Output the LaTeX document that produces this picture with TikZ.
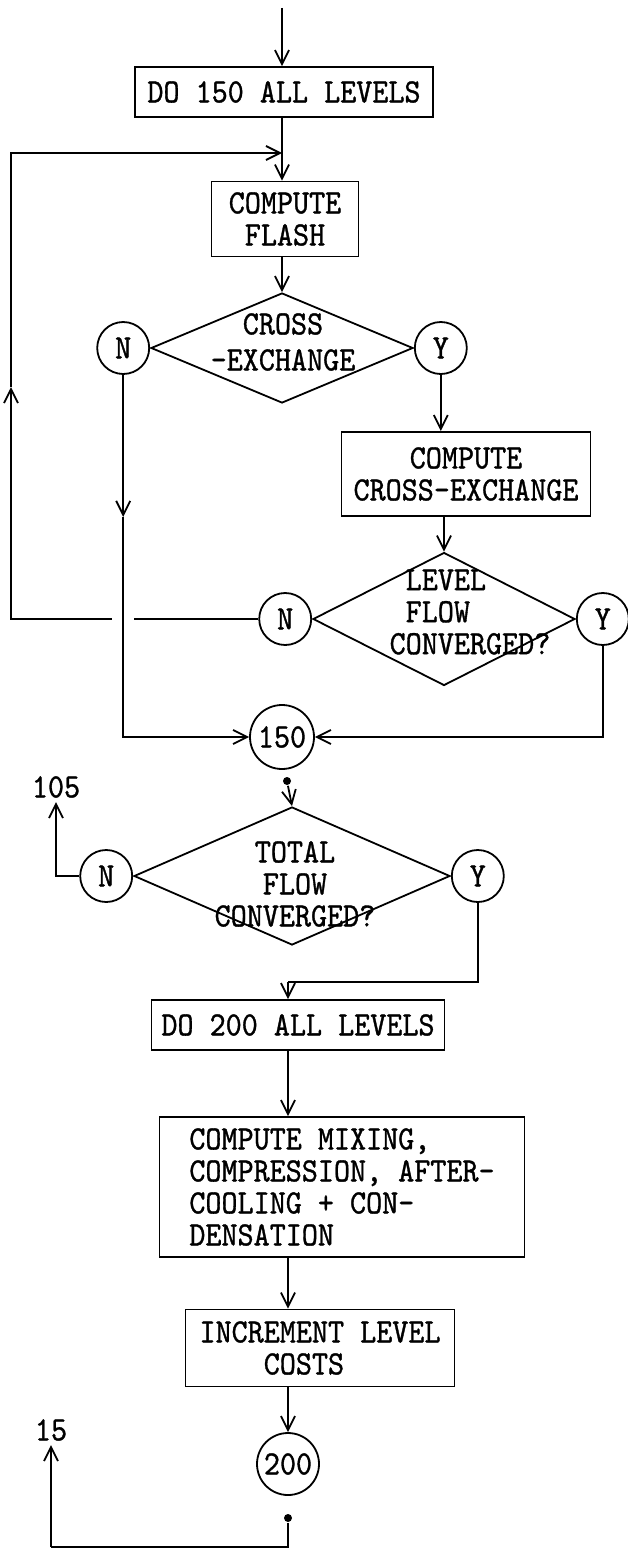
\documentclass[tikz,border=0pt]{standalone}
\usepackage{fontspec}
\setmonofont{lmmono10-regular.otf}[FakeBold=1,FakeStretch=0.9]
\usetikzlibrary{shapes.geometric,arrows.meta,positioning}
\begin{document}
\begin{tikzpicture}[x=1pt,y=-1pt,line width=1.8pt,
  >={Straight Barb[length=14pt,width=14pt]},
  every node/.style={font=\ttfamily\fontsize{34}{32}\selectfont,align=center},
  box/.style={draw,inner sep=0pt},
  decision/.style={draw,diamond,inner sep=0pt},
  answer/.style={draw,circle,inner sep=0pt,minimum size=52pt},
  joint/.style={fill,circle,inner sep=0pt,minimum size=8pt}]
\useasboundingbox (0,0) rectangle (627,1549);
\coordinate (top) at (282,8);
\coordinate (loopin) at (282,153);
\coordinate (lp) at (11,387);
\node[box,minimum width=298pt,minimum height=50pt] (do150) at (284,92) {DO 150 ALL LEVELS};
\node[box,minimum width=147pt,minimum height=75pt] (flash) at (285,219) {COMPUTE\\FLASH};
\node[decision,minimum width=262pt,minimum height=110pt] (cross) at (282,348) {};
\node[font=\ttfamily\fontsize{34}{36}\selectfont] (crosstxt) at (283,342) {CROSS\\-EXCHANGE};
\node[answer,left=0pt of cross] (n1) {N};
\node[answer,right=0pt of cross] (y1) {Y};
\node[box,minimum width=249pt,minimum height=84pt] (cxbox) at (466,474) {COMPUTE\\CROSS-EXCHANGE};
\node[decision,minimum width=262pt,minimum height=133pt] (level) at (444,619) {};
\node[align=left] (leveltxt) at (470,612) {\hphantom{C}LEVEL\\\hphantom{C}FLOW\\CONVERGED?};
\node[answer,left=0pt of level] (n2) {N};
\node[answer,right=0pt of level] (y2) {Y};
\node[answer,minimum size=64pt] (c150) at (282,737) {150};
\node[joint] (dot1) at (287,781) {};
\node[decision,minimum width=316pt,minimum height=138pt] (total) at (292,876) {};
\node (totaltxt) at (295,884) {TOTAL\\FLOW\\CONVERGED?};
\node[answer,left=0pt of total] (n3) {N};
\node[answer,right=0pt of total] (y3) {Y};
\node (t105) at (56,787) {105};
\coordinate (join2) at (288,982);
\node[box,minimum width=293pt,minimum height=50pt] (do200) at (298,1025) {DO 200 ALL LEVELS};
\node[box,align=left,minimum width=365pt,minimum height=140pt] (mixbox) at (342,1187)
  {COMPUTE MIXING,\\COMPRESSION, AFTER-\\COOLING + CON-\\DENSATION};
\node[box,align=left,minimum width=269pt,minimum height=77pt] (incbox) at (320,1348)
  {INCREMENT LEVEL\\\hphantom{INCR}COSTS};
\node[answer,minimum size=62pt] (c200) at (288,1464) {200};
\node[joint] (dot2) at (288,1518) {};
\node (t15) at (51,1430) {15};
\coordinate (corner) at (51,1547);
\draw[->] (top) -- (top |- do150.north);
\draw[->] (top |- do150.south) -- (top |- flash.north);
\draw[->] (top |- flash.south) -- (cross.north);
\draw[->] (n2.west) -| (lp);
\draw[->] (lp) |- (loopin);
\coordinate (cross1) at (n1.south |- n2.west);
\draw[white,line width=22pt] ([yshift=5pt]cross1) -- ([yshift=-5pt]cross1);
\path (n1.south) ++(0,142) coordinate (n1mid);
\draw[->] (n1.south) -- (n1mid);
\draw[->] (n1mid) |- (c150.west);
\draw[->] (y1.south) -- (y1.south |- cxbox.north);
\draw[->] (level.north |- cxbox.south) -- (level.north);
\draw[->] (y2.south) |- (c150.east);
\draw[->] (dot1) -- (total.north);
\draw[->] (n3.west) -| (t105.south);
\draw (y3.south) |- (join2);
\draw[->] (join2) -- (join2 |- do200.north);
\draw[->] (join2 |- do200.south) -- (join2 |- mixbox.north);
\draw[->] (join2 |- mixbox.south) -- (join2 |- incbox.north);
\draw[->] (join2 |- incbox.south) -- (c200.north);
\draw (dot2) |- (corner);
\draw[->] (corner) -- (t15.south);
\end{tikzpicture}
\end{document}
